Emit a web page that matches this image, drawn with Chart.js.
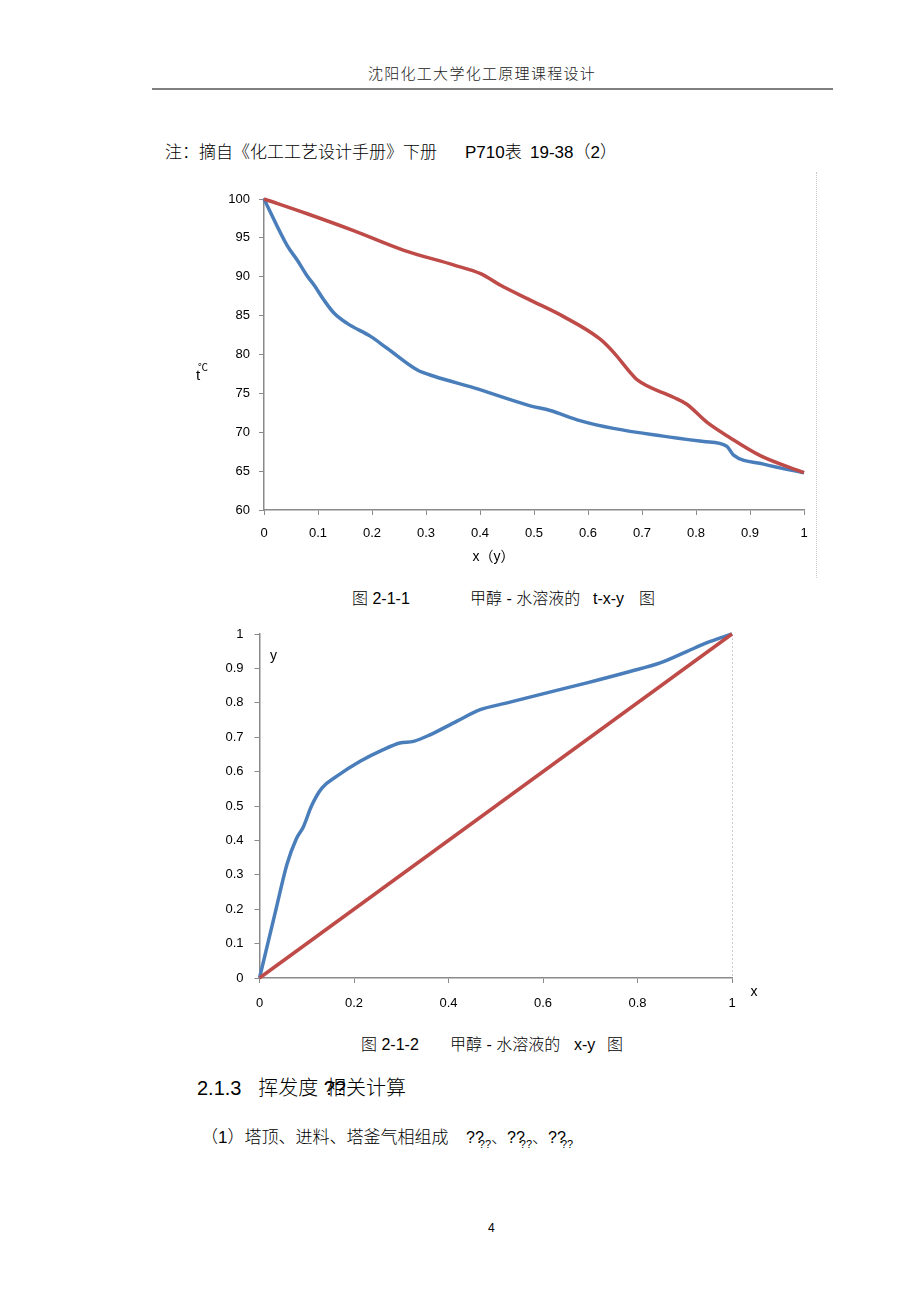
<!DOCTYPE html>
<html>
<head>
<meta charset="utf-8">
<script src="https://cdn.jsdelivr.net/npm/chart.js@4/dist/chart.umd.min.js"></script>
<style>
  html, body { margin:0; padding:0; background:#fff; }
  body { width:920px; height:1303px; position:relative; overflow:hidden;
         font-family:"Liberation Sans","Noto Sans CJK SC",sans-serif; color:#000; }
  .t { position:absolute; white-space:pre; line-height:1; font-weight:300; }
  canvas { position:absolute; }
  .sub { font-size:11px; position:relative; top:5px; margin-left:-5px; }
</style>
</head>
<body>
<script>
// ---------- data ----------
// Figure 2-1-1 : t-x-y diagram of methanol-water
const liquidX = [0, 0.043, 0.062, 0.080, 0.093, 0.111, 0.130, 0.154, 0.198, 0.228, 0.284, 0.315, 0.389, 0.493, 0.530, 0.585, 0.647, 0.739, 0.814, 0.857, 0.869, 0.925, 1.0];
const liquidT = [100, 94.0, 92.1, 90.1, 88.9, 87.0, 85.3, 84.0, 82.3, 80.8, 78.0, 77.2, 75.7, 73.4, 72.8, 71.5, 70.5, 69.5, 68.8, 68.2, 67.1, 65.9, 64.8];
const vaporY  = [0, 0.080, 0.167, 0.259, 0.352, 0.401, 0.438, 0.493, 0.554, 0.622, 0.647, 0.678, 0.690, 0.758, 0.783, 0.820, 0.863, 0.919, 1.0];
const vaporT  = [100, 98.1, 95.9, 93.4, 91.5, 90.4, 88.9, 87.0, 84.9, 82.0, 80.3, 77.7, 76.8, 74.5, 73.6, 71.3, 69.3, 67.0, 64.8];
const txyXTicks = [0, 0.1, 0.2, 0.3, 0.4, 0.5, 0.6, 0.7, 0.8, 0.9, 1];
const txyYTicks = [60, 65, 70, 75, 80, 85, 90, 95, 100];

// Figure 2-1-2 : x-y diagram of methanol-water
const eqX = [0, 0.035, 0.058, 0.078, 0.093, 0.110, 0.132, 0.163, 0.213, 0.262, 0.297, 0.326, 0.361, 0.417, 0.467, 0.522, 0.608, 0.693, 0.784, 0.848, 0.904, 0.946, 1.0];
const eqY = [0, 0.20, 0.33, 0.405, 0.440, 0.50, 0.552, 0.586, 0.630, 0.664, 0.683, 0.688, 0.707, 0.746, 0.780, 0.799, 0.829, 0.858, 0.891, 0.916, 0.949, 0.974, 1.0];
const diagX = [0, 1];
const diagY = [0, 1];
const xyXTicks = [0, 0.2, 0.4, 0.6, 0.8, 1];
const xyYTicks = [0, 0.1, 0.2, 0.3, 0.4, 0.5, 0.6, 0.7, 0.8, 0.9, 1];

const BLUE = '#4a7ebb';
const RED  = '#be4b48';
const AXIS = '#8a8a8a';
const TICKFONT = { family: '"Liberation Sans", Arial, sans-serif', size: 13 };
</script>

<!-- page header -->
<div class="t" style="left:0;width:964px;text-align:center;top:66px;font-size:15px;letter-spacing:1.3px;color:#222;">沈阳化工大学化工原理课程设计</div>
<div style="position:absolute;left:152px;top:88px;width:681px;height:2px;background:#7f7f7f;"></div>

<div class="t" style="left:165px;top:144px;font-size:17px;">注：摘自《化工工艺设计手册》下册</div>
<div class="t" style="left:465px;top:144px;font-size:17px;">P710表</div>
<div class="t" style="left:530px;top:144px;font-size:17px;">19-38（2）</div>

<!-- chart 1 -->
<canvas id="c1" width="640" height="400" style="left:180px;top:180px;"></canvas>
<div style="position:absolute;left:816px;top:172px;height:406px;border-left:1px dotted #c8c8c8;"></div>
<div class="t" style="left:352px;top:591px;font-size:16px;">图 2-1-1</div>
<div class="t" style="left:470px;top:591px;font-size:16px;">甲醇 - 水溶液的</div>
<div class="t" style="left:593px;top:591px;font-size:16px;">t-x-y</div>
<div class="t" style="left:639px;top:591px;font-size:16px;">图</div>

<!-- chart 2 -->
<canvas id="c2" width="600" height="420" style="left:180px;top:615px;"></canvas>
<div class="t" style="left:361px;top:1037px;font-size:16px;">图 2-1-2</div>
<div class="t" style="left:450px;top:1037px;font-size:16px;">甲醇 - 水溶液的</div>
<div class="t" style="left:574px;top:1037px;font-size:16px;">x-y</div>
<div class="t" style="left:607px;top:1037px;font-size:16px;">图</div>

<div class="t" style="left:197px;top:1078px;font-size:20px;">2.1.3   挥发度 <span style="margin-right:-20px;">??</span>相关计算</div>
<div class="t" style="left:201px;top:1129px;font-size:17px;">（1）塔顶、进料、塔釜气相组成</div>
<div class="t" style="left:466px;top:1130px;font-size:16px;">??<span class="sub">??</span>、??<span class="sub">??</span>、??<span class="sub">??</span></div>

<div class="t" style="left:488px;top:1222px;font-size:12px;">4</div>

<script>
function pts(xs, ys) { return xs.map((x, i) => ({ x: x, y: ys[i] })); }
function fmt(v) { return String(Number(Number(v).toFixed(2))); }
function fixedTicks(arr) { return function (scale) { scale.ticks = arr.map(v => ({ value: v })); }; }

function axisOpts(min, max, ticksArr, pad, isY, size) {
  return {
    type: 'linear', min: min, max: max,
    afterBuildTicks: fixedTicks(ticksArr),
    afterFit: function (s) { if (isY) s.width = size; else s.height = size; },
    grid: { display: true, drawOnChartArea: false, drawTicks: true, tickLength: 5, color: AXIS, lineWidth: 1 },
    border: { display: true, color: AXIS, width: 1.5 },
    ticks: { color: '#000', font: TICKFONT, padding: pad, maxRotation: 0, autoSkip: false, callback: fmt }
  };
}

function lineDs(data, color) {
  return { data: data, borderColor: color, borderWidth: 3.5, pointRadius: 0,
           fill: false, cubicInterpolationMode: 'monotone', clip: false };
}

const labels1 = {
  id: 'labels1',
  afterDraw(chart) {
    const a = chart.chartArea, ctx = chart.ctx;
    ctx.save();
    ctx.fillStyle = '#000';
    ctx.textAlign = 'center'; ctx.textBaseline = 'middle';
    ctx.font = '14px "Liberation Sans", Arial, "Noto Sans CJK SC", sans-serif';
    ctx.fillText('x（y）', a.left + 0.425 * (a.right - a.left), a.bottom + 47);
    ctx.font = '15px "Liberation Sans", Arial, sans-serif';
    ctx.fillText('t', a.left - 66, a.top + 177);
    ctx.font = '10px "Noto Sans CJK SC", sans-serif';
    ctx.fillText('℃', a.left - 61, a.top + 168);
    ctx.restore();
  }
};

new Chart(document.getElementById('c1'), {
  type: 'line',
  data: { datasets: [ lineDs(pts(vaporY, vaporT), RED), lineDs(pts(liquidX, liquidT), BLUE) ] },
  options: {
    responsive: false, animation: false, devicePixelRatio: 1,
    layout: { padding: { top: 19, right: 16, left: 0, bottom: 0 } },
    plugins: { legend: { display: false }, tooltip: { enabled: false } },
    scales: {
      x: axisOpts(0, 1, txyXTicks, 11, false, 70),
      y: axisOpts(60, 100, txyYTicks, 9, true, 84)
    }
  },
  plugins: [labels1]
});

const labels2 = {
  id: 'labels2',
  beforeDatasetsDraw(chart) {
    const a = chart.chartArea, ctx = chart.ctx;
    ctx.save();
    ctx.strokeStyle = '#cfcfcf'; ctx.lineWidth = 1; ctx.setLineDash([2, 2]);
    ctx.beginPath(); ctx.moveTo(a.right + 0.5, a.top); ctx.lineTo(a.right + 0.5, a.bottom); ctx.stroke();
    ctx.restore();
  },
  afterDraw(chart) {
    const a = chart.chartArea, ctx = chart.ctx;
    ctx.save();
    ctx.fillStyle = '#000';
    ctx.textAlign = 'center'; ctx.textBaseline = 'middle';
    ctx.font = '14px "Liberation Sans", Arial, sans-serif';
    ctx.fillText('y', a.left + 14, a.top + 22);
    ctx.fillText('x', a.right + 22, a.bottom + 14);
    ctx.restore();
  }
};

new Chart(document.getElementById('c2'), {
  type: 'line',
  data: { datasets: [ lineDs(pts(diagX, diagY), RED), lineDs(pts(eqX, eqY), BLUE) ] },
  options: {
    responsive: false, animation: false, devicePixelRatio: 1,
    layout: { padding: { top: 19, right: 48, left: 0, bottom: 0 } },
    plugins: { legend: { display: false }, tooltip: { enabled: false } },
    scales: {
      x: axisOpts(0, 1, xyXTicks, 13, false, 57),
      y: axisOpts(0, 1, xyYTicks, 11, true, 79.5)
    }
  },
  plugins: [labels2]
});
</script>
</body>
</html>
